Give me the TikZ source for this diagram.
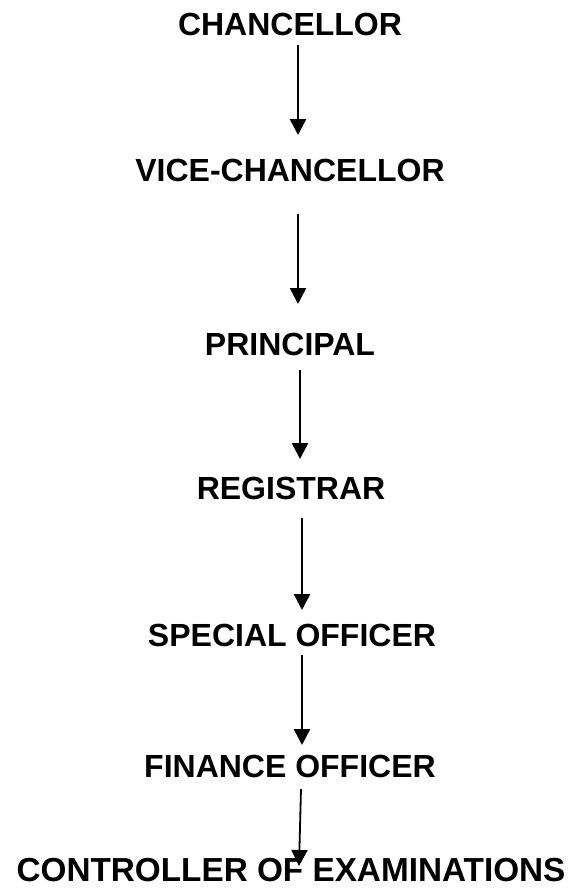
\documentclass[tikz,border=0pt]{standalone}
\usepackage{fontspec}
\setmainfont{Liberation Sans}
\usetikzlibrary{arrows.meta}
\tikzset{
  title/.style={anchor=base, inner sep=0pt, font=\bfseries\fontsize{32}{38}\selectfont},
  link/.style={line width=2.6pt, -{Triangle[width=16pt,length=16pt]}}
}
\begin{document}
\begin{tikzpicture}[x=1pt,y=-1pt]
\useasboundingbox (0,0) rectangle (572,892);
\node[title] (chan) at (290,35) {CHANCELLOR};
\node[title] (vice) at (290,181) {VICE-CHANCELLOR};
\node[title] (prin) at (290,355) {PRINCIPAL};
\node[title] (reg) at (291,499) {REGISTRAR};
\node[title] (spec) at (292,646) {SPECIAL OFFICER};
\node[title] (fin) at (290,777) {FINANCE OFFICER};
\node[title, font=\bfseries\fontsize{33.3}{40}\selectfont] (ctrl) at (291,881) {CONTROLLER OF EXAMINATIONS};
\coordinate (a1) at (298,45);  \coordinate (b1) at (298,135);
\coordinate (a2) at (298,214); \coordinate (b2) at (298,304);
\coordinate (a3) at (300,370); \coordinate (b3) at (300,459);
\coordinate (a4) at (302,518); \coordinate (b4) at (302,610);
\coordinate (a5) at (302,655); \coordinate (b5) at (302,745);
\coordinate (a6) at (301,789); \coordinate (b6) at (299,866);
\draw[link] (a1) -- (b1);
\draw[link] (a2) -- (b2);
\draw[link] (a3) -- (b3);
\draw[link] (a4) -- (b4);
\draw[link] (a5) -- (b5);
\draw[link,line width=1.8pt] (a6) -- (b6);
\end{tikzpicture}
\end{document}
